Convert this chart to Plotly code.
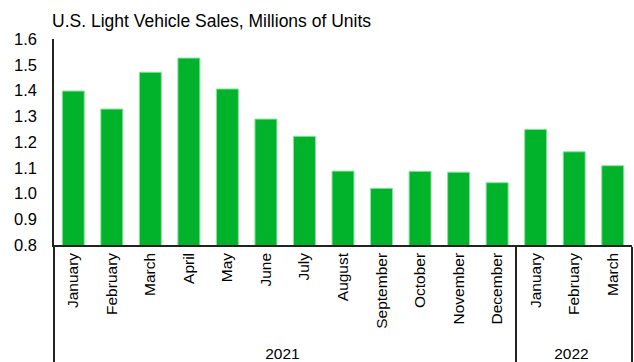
import plotly.graph_objects as go

years = ["2021"] * 12 + ["2022"] * 3
months = ["January", "February", "March", "April", "May", "June", "July",
          "August", "September", "October", "November", "December",
          "January", "February", "March"]
sales = [1.398, 1.328, 1.471, 1.526, 1.406, 1.289, 1.222, 1.087, 1.020,
         1.086, 1.083, 1.042, 1.249, 1.162, 1.108]

FONT = "Arial, Liberation Sans, sans-serif"

fig = go.Figure(go.Bar(
    x=[years, months], y=sales,
    marker=dict(color="#00b32a", line=dict(color="#8ee09e", width=1)),
    width=0.57,
))
fig.update_layout(
    width=634, height=362,
    margin=dict(l=54, r=2, t=39, b=117),
    paper_bgcolor="white", plot_bgcolor="white",
    showlegend=False,
    font=dict(family=FONT, size=17, color="black"),
    title=dict(text="U.S. Light Vehicle Sales, Millions of Units",
               x=52 / 634, xanchor="left", y=1 - 21 / 362, yanchor="middle",
               font=dict(family=FONT, size=17.5, color="black")),
)
fig.update_xaxes(
    type="multicategory", tickangle=-90, showline=True, linecolor="#222",
    linewidth=1.5, ticks="", showdividers=True, dividercolor="#222",
    dividerwidth=1.5, showgrid=False, tickfont=dict(size=15.5),
    automargin=False,
)
fig.update_yaxes(
    range=[0.8, 1.6], dtick=0.1, tickformat=".1f", showline=True,
    linecolor="#222", linewidth=1.5, showgrid=False, zeroline=False,
    ticks="", tickfont=dict(size=16.5), ticklabelstandoff=12,
    automargin=False,
)
fig.write_html("out.html")
